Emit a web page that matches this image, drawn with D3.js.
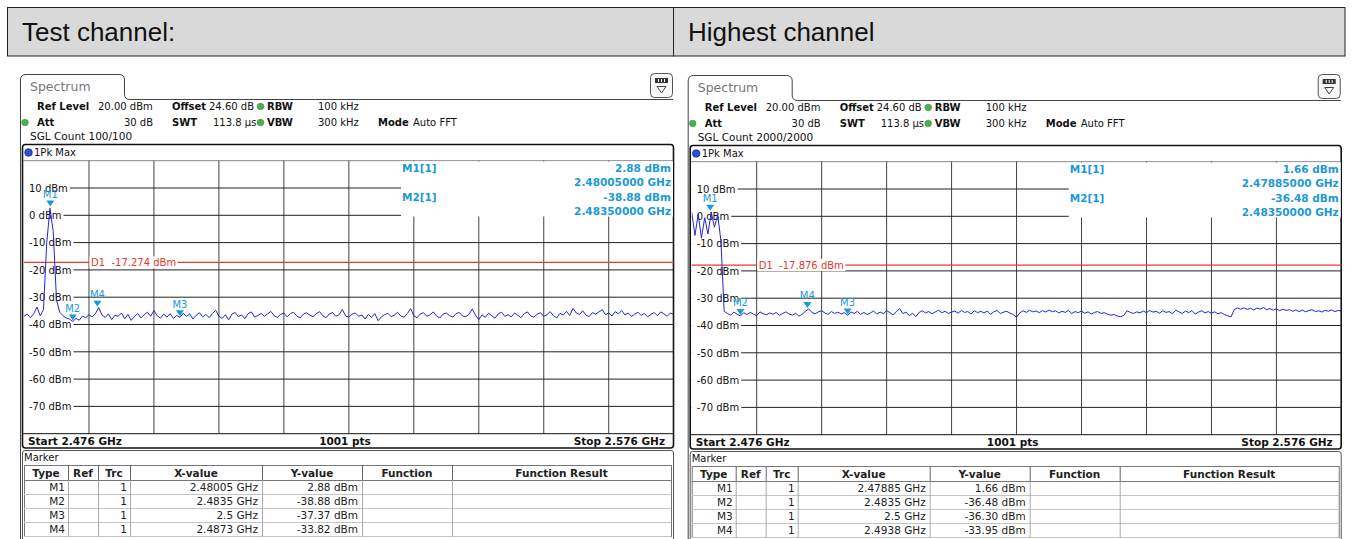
<!DOCTYPE html>
<html lang="en">
<head>
<meta charset="UTF-8">
<title>Spectrum - test channel / highest channel</title>
<script src="https://d3js.org/d3.v7.min.js"></script>
<style>
  body { margin: 0; background: #fff; }
  svg { display: block; font-family: "DejaVu Sans", Verdana, sans-serif; }
  .hdr { font-family: "Liberation Sans", Arial, sans-serif; font-size: 26px; fill: #111; }
  .t10 { font-size: 10px; fill: #111; }
  .b { font-weight: bold; font-size: 10.5px; }
  .bi { font-weight: bold; font-size: 10px; }
  .mk { fill: #1a9ad7; }
  .mkinfo { font-size: 10.5px; font-weight: bold; fill: #1a9ad7; }
  .mklabel { font-size: 10px; fill: #1a9ad7; }
  .tbl { font-size: 10.5px; fill: #222; }
</style>
</head>
<body>
<div id="chart"></div>
<script>
// sweep settings
const freqStartGHz = 2.476;
const freqStopGHz = 2.576;
const traceStepMHz = 0.5;
const xTicksGHz = [2.476, 2.486, 2.496, 2.506, 2.516, 2.526, 2.536, 2.546, 2.556, 2.566, 2.576];
const yTicks = [10, 0, -10, -20, -30, -40, -50, -60, -70];

const panelTitles = ["Test channel:", "Highest channel"];
const sglCounts = ["100/100", "2000/2000"];
const d1Levels = [-17.274, -17.876];

const markerNames = ["M1", "M2", "M3", "M4"];
const testMarkerFreq = [2.48005, 2.4835, 2.5, 2.4873];
const testMarkerLevel = [2.88, -38.88, -37.37, -33.82];
const highMarkerFreq = [2.47885, 2.4835, 2.5, 2.4938];
const highMarkerLevel = [1.66, -36.48, -36.30, -33.95];

// max hold trace, one value every 0.5 MHz
const testTrace = [
  -37.0, -36.2, -37.5, -36.0, -33.6, -36.8, -34.5, -10.0, 2.6, -6.0,
  -31.0, -35.5, -36.8, -37.6, -38.0, -38.9, -37.8, -38.4, -36.9, -37.5,
  -36.4, -37.2, -36.0, -33.8, -36.5, -37.4, -36.1, -38.2, -36.6, -37.0,
  -35.8, -37.9, -36.3, -38.5, -37.1, -36.0, -37.6, -36.4, -35.5, -37.0,
  -34.9, -36.8, -37.7, -36.2, -37.3, -36.0, -37.8, -36.7, -37.4, -35.9,
  -37.0, -36.1, -38.0, -36.6, -35.7, -37.2, -36.3, -37.5, -36.0, -34.8,
  -36.9, -37.8, -36.4, -38.3, -36.2, -35.6, -37.1, -36.5, -37.9, -36.0,
  -35.4, -37.3, -36.7, -35.9, -37.0, -36.1, -35.2, -36.8, -37.4, -36.3,
  -35.8, -37.2, -36.0, -35.5, -36.9, -37.6, -36.2, -35.7, -36.6, -37.1,
  -36.0, -35.3, -36.8, -37.5, -36.1, -35.6, -37.0, -36.4, -34.5, -36.9,
  -37.3, -36.2, -35.8, -37.0, -36.5, -38.0, -36.3, -37.4, -36.0, -38.6,
  -37.2, -36.4, -35.9, -37.1, -36.6, -35.5, -36.9, -37.3, -36.0, -34.2,
  -36.8, -37.5, -36.1, -35.7, -37.0, -36.4, -35.4, -36.9, -37.6, -36.2,
  -35.8, -36.7, -37.3, -36.0, -35.6, -36.9, -37.1, -36.3, -34.3, -36.6,
  -38.2, -36.5, -37.4, -35.9, -36.8, -37.7, -36.1, -35.5, -37.0, -36.4,
  -37.2, -35.8, -36.6, -37.5, -36.0, -35.4, -36.9, -37.3, -36.2, -35.7,
  -37.0, -36.4, -35.3, -36.8, -37.6, -35.9, -36.5, -35.2, -36.7, -34.1,
  -35.8, -36.3, -35.0, -36.6, -37.1, -35.6, -36.2, -35.4, -34.6, -36.4,
  -35.7, -36.9, -35.3, -36.1, -34.9, -36.5, -35.8, -37.0, -36.2, -35.5,
  -36.7, -35.9, -37.2, -36.3, -35.6, -36.8, -35.4, -36.1, -37.0, -35.8,
  -36.3
];
const highTrace = [
  1.5, -7.0, 0.8, -8.0, -0.5, -6.5, 1.6, -4.0, 0.5, -9.0,
  -34.8, -35.6, -36.2, -35.1, -35.9, -36.5, -35.3, -36.0, -35.2, -35.8,
  -36.4, -35.0, -35.7, -36.1, -35.4, -35.9, -35.2, -36.3, -35.6, -35.0,
  -35.8, -36.2, -35.5, -36.6, -35.9, -34.8, -33.9, -35.2, -35.7, -35.0,
  -34.6, -35.4, -35.9, -34.9, -35.6, -35.1, -35.8, -35.3, -36.3, -35.0,
  -35.6, -34.8, -35.9, -35.2, -36.0, -35.4, -34.7, -35.8, -35.1, -35.7,
  -34.5, -35.3, -36.1, -35.0, -33.8, -35.6, -35.1, -36.4, -35.5, -36.8,
  -35.2, -34.6, -35.4, -34.9, -35.7, -35.0, -34.4, -35.3, -34.8, -35.6,
  -35.1, -34.7, -35.5, -34.5, -35.2, -34.9, -35.8, -34.6, -35.3, -34.8,
  -35.4, -34.7, -35.9, -35.0, -34.5, -35.6, -35.1, -34.8, -35.5, -36.0,
  -37.0, -35.4, -34.6, -35.2, -34.4, -35.0, -34.7, -35.3, -34.5, -35.1,
  -34.3, -35.0, -34.6, -35.4, -34.8, -35.2, -34.5, -35.6, -34.9, -35.3,
  -34.7, -35.5, -35.0, -35.8, -35.2, -34.9, -35.6, -35.3, -35.9, -36.2,
  -36.0, -36.5, -36.8, -36.3, -34.6, -35.2, -35.6, -35.0, -35.4, -34.7,
  -35.3, -34.5, -35.1, -34.8, -35.5, -34.6, -35.2, -34.9, -35.7, -34.4,
  -35.0, -35.6, -34.7, -35.3, -34.5, -35.8, -35.1, -34.6, -35.4, -34.9,
  -35.5, -35.0, -35.7, -35.3, -36.0, -36.4, -36.9, -34.2, -33.6, -34.0,
  -33.5, -34.1, -33.7, -34.3, -33.6, -34.0, -33.4, -34.2, -33.8, -34.4,
  -33.9, -34.6, -34.0, -34.5, -34.2, -34.8, -34.3, -34.9, -34.4, -35.0,
  -34.5, -34.2, -34.9, -34.6, -35.1, -34.4, -34.8, -34.3, -34.9, -34.5,
  -34.7
];

const tableHeads = ["Type", "Ref", "Trc", "X-value", "Y-value", "Function", "Function Result"];
const tableCols = [24, 68, 98, 130, 262, 362, 452, 671];

const panels = [
  { title: panelTitles[0], sgl: sglCounts[0], d1: d1Levels[0], trace: testTrace,
    mFreq: testMarkerFreq, mLevel: testMarkerLevel, dx: 0, dy: 0 },
  { title: panelTitles[1], sgl: sglCounts[1], d1: d1Levels[1], trace: highTrace,
    mFreq: highMarkerFreq, mLevel: highMarkerLevel, dx: 667.7, dy: 1 }
];

const svg = d3.select("#chart").append("svg")
  .attr("width", 1353)
  .attr("height", 539);

// title bars
svg.append("rect").attr("x", 7.5).attr("y", 7.5).attr("width", 666).attr("height", 48.5)
  .attr("fill", "#d9d9d9").attr("stroke", "#222");
svg.append("rect").attr("x", 673.5).attr("y", 7.5).attr("width", 671.5).attr("height", 48.5)
  .attr("fill", "#d9d9d9").attr("stroke", "#222");

const x = d3.scaleLinear().domain([freqStartGHz, freqStopGHz]).range([24, 673.7]);
const y = d3.scaleLinear().domain([20, -80]).range([160.7, 433.7]);

function txt(g, xp, yp, s, cls, anchor) {
  return g.append("text").attr("x", xp).attr("y", yp).attr("class", cls)
    .attr("text-anchor", anchor || "start").text(s);
}

function greenDot(g, cx, cy) {
  g.append("circle").attr("cx", cx).attr("cy", cy).attr("r", 3.3)
    .attr("fill", "#4caf50").attr("stroke", "#3a8c3d").attr("stroke-width", 0.6);
}

panels.forEach((p, pi) => {
  svg.append("text").attr("class", "hdr").attr("x", 22 + (pi ? 666 : 0)).attr("y", 41).text(p.title);

  const g = svg.append("g").attr("transform", `translate(${p.dx},${p.dy})`);

  // tab + frame
  g.append("path")
    .attr("d", "M20.5,539 L20.5,80 Q20.5,74.5 26,74.5 L119,74.5 Q124.5,74.5 124.5,80 L124.5,94 Q124.5,99.5 130,99.5 L673,99.5")
    .attr("fill", "none").attr("stroke", "#444").attr("stroke-width", 1);
  txt(g, 30, 91, "Spectrum", "t10").style("font-size", "12.5px").style("fill", "#777");

  // icon
  g.append("rect").attr("x", 650.5).attr("y", 73.5).attr("width", 22).attr("height", 24).attr("rx", 4)
    .attr("fill", "#f7f7f7").attr("stroke", "#555");
  g.append("rect").attr("x", 655).attr("y", 78).attr("width", 13).attr("height", 5).attr("fill", "#333");
  [658.5, 661.5, 664.5].forEach(v => g.append("line").attr("x1", v).attr("x2", v).attr("y1", 79).attr("y2", 82)
    .attr("stroke", "#fff"));
  g.append("path").attr("d", "M657,86.5 L666,86.5 L661.5,93 Z").attr("fill", "none").attr("stroke", "#444");

  // settings text
  txt(g, 37, 110, "Ref Level", "t10 bi");
  txt(g, 98, 110, "20.00 dBm", "t10");
  txt(g, 172, 110, "Offset", "t10 bi");
  txt(g, 209, 110, "24.60 dB", "t10");
  greenDot(g, 260.5, 106.5);
  txt(g, 267, 110, "RBW", "t10 bi");
  txt(g, 318, 110, "100 kHz", "t10");
  greenDot(g, 25, 122.5);
  txt(g, 37, 126, "Att", "t10 bi");
  txt(g, 153, 126, "30 dB", "t10", "end");
  txt(g, 172, 126, "SWT", "t10 bi");
  txt(g, 213, 126, "113.8 µs", "t10");
  greenDot(g, 260.5, 122.5);
  txt(g, 267, 126, "VBW", "t10 bi");
  txt(g, 318, 126, "300 kHz", "t10");
  txt(g, 378, 126, "Mode", "t10 bi");
  txt(g, 413, 126, "Auto FFT", "t10");
  txt(g, 30, 140, "SGL Count " + p.sgl, "t10").style("font-size", "10.5px");

  // plot box
  g.append("rect").attr("x", 22.5).attr("y", 144.5).attr("width", 651).attr("height", 303.5).attr("rx", 3)
    .attr("fill", "#fff").attr("stroke", "#111").attr("stroke-width", 1.6);
  g.append("circle").attr("cx", 28.5).attr("cy", 152.5).attr("r", 3.8)
    .attr("fill", "#2a4fd8").attr("stroke", "#13226e").attr("stroke-width", 0.7);
  txt(g, 34, 156, "1Pk Max", "t10");
  g.append("line").attr("x1", 23).attr("x2", 673).attr("y1", 160.7).attr("y2", 160.7).attr("stroke", "#888");

  // grid
  const grid = g.append("g");
  xTicksGHz.slice(1, -1).forEach(f => grid.append("line")
    .attr("x1", x(f)).attr("x2", x(f)).attr("y1", y(20)).attr("y2", y(-80))
    .attr("stroke", "#444"));
  yTicks.forEach(t => grid.append("line")
    .attr("x1", x(freqStartGHz)).attr("x2", x(freqStopGHz)).attr("y1", y(t)).attr("y2", y(t))
    .attr("stroke", "#222"));
  grid.append("line").attr("x1", 23).attr("x2", 673).attr("y1", y(-80)).attr("y2", y(-80)).attr("stroke", "#111");

  // blank area behind the marker readout
  g.append("rect").attr("x", 401).attr("y", 161.5).attr("width", 272).attr("height", 55).attr("fill", "#fff");

  // y labels with white backing
  yTicks.forEach(t => {
    const bg = g.append("rect").attr("fill", "#fff");
    const lb = txt(g, 29, y(t) + 3.8, t + " dBm", "t10");
    const w = lb.node().getComputedTextLength();
    bg.attr("x", 24).attr("y", y(t) - 6).attr("width", w + 7).attr("height", 12);
  });

  // D1 line
  g.append("line").attr("x1", x(freqStartGHz)).attr("x2", x(freqStopGHz))
    .attr("y1", y(p.d1)).attr("y2", y(p.d1)).attr("stroke", "#e8392e").attr("stroke-width", 1.2);
  const d1bg = g.append("rect").attr("fill", "#fff");
  const d1t = txt(g, 91, y(p.d1) + 3.8, "D1  " + p.d1.toFixed(3) + " dBm", "t10").style("fill", "#e8392e")
    .attr("xml:space", "preserve");
  d1bg.attr("x", 89.5).attr("y", y(p.d1) - 6).attr("width", d1t.node().getComputedTextLength() + 3).attr("height", 12);

  // trace
  g.append("clipPath").attr("id", "clip" + pi).append("rect")
    .attr("x", 24).attr("y", 161).attr("width", 649.7).attr("height", 272.5);
  const pts = p.trace.map((v, i) => [freqStartGHz + i * traceStepMHz / 1000, v]);
  g.append("path").datum(pts)
    .attr("clip-path", `url(#clip${pi})`)
    .attr("fill", "none").attr("stroke", "#2424dc").attr("stroke-width", 1)
    .attr("stroke-linejoin", "round")
    .attr("d", d3.line().x(d => x(d[0])).y(d => y(d[1])));

  // markers
  markerNames.forEach((m, i) => {
    const mx = x(p.mFreq[i]), my = y(p.mLevel[i]);
    g.append("path").attr("class", "mk").attr("fill", "#1a9ad7")
      .attr("d", `M${mx - 4},${my - 7} L${mx + 4},${my - 7} L${mx},${my - 1} Z`);
    txt(g, mx, my - 9.5, m, "mklabel", "middle");
  });

  // marker readout
  [0, 1].forEach(i => {
    const yy = 172 + i * 29;
    txt(g, 402, yy, markerNames[i] + "[1]", "mkinfo");
    txt(g, 671, yy, p.mLevel[i].toFixed(2) + " dBm", "mkinfo", "end");
    txt(g, 671, yy + 14, p.mFreq[i].toFixed(8) + " GHz", "mkinfo", "end");
  });

  // footer
  txt(g, 28, 445, "Start " + freqStartGHz + " GHz", "t10 b");
  txt(g, 345, 445, "1001 pts", "t10 b", "middle");
  txt(g, 665, 445, "Stop " + freqStopGHz + " GHz", "t10 b", "end");

  // marker table
  g.append("path").attr("d", "M22.5,545 L22.5,453 Q22.5,450.5 25,450.5 L671,450.5 Q673.5,450.5 673.5,453 L673.5,545")
    .attr("fill", "#fff").attr("stroke", "#555");
  txt(g, 24, 461, "Marker", "t10");
  const top = 465.5, headH = 15, rowH = 14;
  const tb = g.append("g");
  tb.append("rect").attr("x", tableCols[0] + 0.5).attr("y", top).attr("width", tableCols[7] - tableCols[0])
    .attr("height", headH + rowH * 4).attr("fill", "#fff").attr("stroke", "#777");
  for (let r = 0; r <= 4; r++) {
    const yy = top + headH + r * rowH;
    tb.append("line").attr("x1", tableCols[0]).attr("x2", tableCols[7]).attr("y1", yy).attr("y2", yy)
      .attr("stroke", r === 0 ? "#777" : "#c4c4c4");
  }
  tableCols.slice(1, -1).forEach(c => {
    tb.append("line").attr("x1", c + 0.5).attr("x2", c + 0.5).attr("y1", top).attr("y2", top + headH)
      .attr("stroke", "#666");
    tb.append("line").attr("x1", c + 0.5).attr("x2", c + 0.5).attr("y1", top + headH).attr("y2", top + headH + rowH * 4)
      .attr("stroke", "#aaa");
  });
  tableHeads.forEach((h, i) => txt(tb, (tableCols[i] + tableCols[i + 1]) / 2, top + 11.5, h, "tbl b", "middle"));
  markerNames.forEach((m, i) => {
    const yy = top + headH + i * rowH + 10.5;
    txt(tb, tableCols[1] - 3, yy, m, "tbl", "end");
    txt(tb, tableCols[3] - 3, yy, "1", "tbl", "end");
    txt(tb, tableCols[4] - 4, yy, p.mFreq[i] + " GHz", "tbl", "end");
    txt(tb, tableCols[5] - 4, yy, p.mLevel[i].toFixed(2) + " dBm", "tbl", "end");
  });
});
</script>
</body>
</html>
